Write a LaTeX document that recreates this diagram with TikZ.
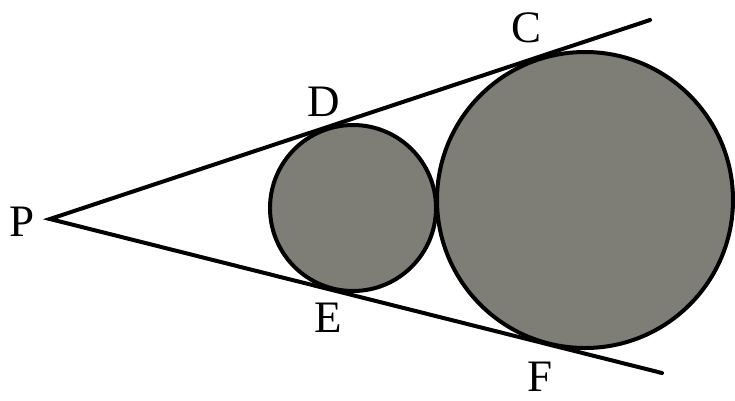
\documentclass[tikz,border=0pt]{standalone}
\usepackage{fontspec}
\setmainfont{Liberation Serif}
\begin{document}
\begin{tikzpicture}[x=1pt,y=-1pt,
  disc/.style={draw=black,line width=4pt,fill=discgray},
  tline/.style={draw=black,line width=4pt,line cap=round},
  lbl/.style={font=\fontsize{45}{45}\selectfont,inner sep=0pt}]
\definecolor{discgray}{RGB}{126,125,118}
\useasboundingbox (0,0) rectangle (735,400);
\coordinate (P) at (50,219);
\coordinate (U) at (650,20);
\coordinate (L) at (662,373);
\draw[tline] (U) -- (P) -- (L);
\node[disc,circle,minimum size=166pt,inner sep=0pt] (s) at (353,208) {};
\node[disc,circle,minimum size=296pt,inner sep=0pt] (b) at (585,200) {};
\node[lbl] (p) at (22,222) {P};
\node[lbl] (d) at (324,102) {D};
\node[lbl] (e) at (328,318) {E};
\node[lbl] (c) at (526,28) {C};
\node[lbl] (f) at (540,377) {F};
\end{tikzpicture}
\end{document}
